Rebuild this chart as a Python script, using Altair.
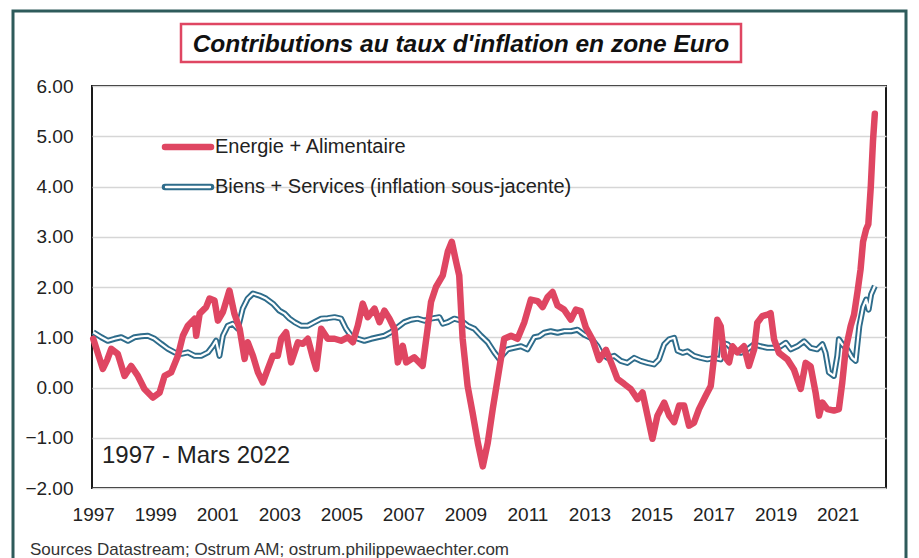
import altair as alt
import pandas as pd

# ---- data (decimal years, contribution in points) ----
energy_years = [1997.0, 1997.31, 1997.45, 1997.58, 1997.79, 1998.01, 1998.22, 1998.44, 1998.65, 1998.92,
                1999.14, 1999.3, 1999.51, 1999.73, 1999.89, 2000.05, 2000.27, 2000.32, 2000.43, 2000.64,
                2000.75, 2000.91, 2001.02, 2001.18, 2001.39, 2001.55, 2001.72, 2001.88, 2001.98, 2002.15,
                2002.31, 2002.47, 2002.63, 2002.79, 2002.95, 2003.06, 2003.22, 2003.38, 2003.6, 2003.76,
                2003.92, 2004.08, 2004.19, 2004.35, 2004.56, 2004.78, 2004.99, 2005.21, 2005.37, 2005.53,
                2005.69, 2005.85, 2006.07, 2006.23, 2006.39, 2006.55, 2006.71, 2006.82, 2006.98, 2007.09,
                2007.35, 2007.62, 2007.78, 2007.89, 2008.05, 2008.27, 2008.43, 2008.56, 2008.7, 2008.8,
                2008.91, 2009.07, 2009.23, 2009.4, 2009.56, 2009.72, 2009.88, 2010.09, 2010.25, 2010.47,
                2010.68, 2010.9, 2011.11, 2011.33, 2011.49, 2011.65, 2011.81, 2011.97, 2012.18, 2012.4,
                2012.56, 2012.72, 2012.88, 2013.1, 2013.31, 2013.53, 2013.74, 2013.9, 2014.12, 2014.33,
                2014.55, 2014.71, 2014.87, 2015.03, 2015.19, 2015.41, 2015.57, 2015.73, 2015.89, 2016.05,
                2016.21, 2016.37, 2016.53, 2016.75, 2016.91, 2017.02, 2017.12, 2017.23, 2017.34, 2017.5,
                2017.61, 2017.77, 2017.98, 2018.14, 2018.31, 2018.41, 2018.57, 2018.74, 2018.84, 2018.95,
                2019.11, 2019.38, 2019.59, 2019.81, 2019.97, 2020.13, 2020.29, 2020.4, 2020.51, 2020.67,
                2020.88, 2021.04, 2021.15, 2021.26, 2021.42, 2021.53, 2021.64, 2021.74, 2021.82, 2021.92,
                2021.99, 2022.07, 2022.14, 2022.2]
energy_values = [0.97, 0.37, 0.55, 0.77, 0.67, 0.23, 0.43, 0.23, -0.03, -0.2,
                 -0.1, 0.23, 0.3, 0.63, 1.03, 1.23, 1.37, 1.03, 1.47, 1.6,
                 1.77, 1.73, 1.33, 1.5, 1.93, 1.47, 1.17, 0.57, 0.9, 0.63,
                 0.3, 0.1, 0.37, 0.63, 0.63, 0.97, 1.1, 0.5, 0.9, 0.87,
                 0.97, 0.6, 0.37, 1.17, 0.97, 0.97, 0.93, 1.0, 0.9, 1.23,
                 1.67, 1.4, 1.57, 1.3, 1.53, 1.37, 1.17, 0.5, 0.83, 0.5,
                 0.6, 0.43, 1.17, 1.7, 2.0, 2.23, 2.7, 2.9, 2.5, 2.23,
                 0.97, 0.03, -0.5, -1.1, -1.57, -1.1, -0.43, 0.37, 0.97, 1.03,
                 0.97, 1.3, 1.75, 1.72, 1.6, 1.8, 1.9, 1.63, 1.55, 1.35,
                 1.55, 1.52, 1.2, 0.95, 0.55, 0.75, 0.43, 0.17, 0.07, -0.03,
                 -0.23, -0.1, -0.56, -1.02, -0.56, -0.3, -0.56, -0.69, -0.36, -0.36,
                 -0.76, -0.7, -0.43, -0.16, 0.03, 0.63, 1.35, 1.22, 0.63, 0.5,
                 0.82, 0.7, 0.82, 0.43, 0.76, 1.29, 1.42, 1.45, 1.48, 0.96,
                 0.69, 0.56, 0.36, -0.03, 0.49, 0.42, -0.1, -0.56, -0.3, -0.43,
                 -0.46, -0.43, 0.1, 0.76, 1.22, 1.45, 1.9, 2.35, 2.9, 3.15,
                 3.25, 4.0, 4.9, 5.45]

core_years = [1997.0, 1997.26, 1997.47, 1997.69, 1997.9, 1998.12, 1998.33, 1998.55, 1998.76, 1998.98,
              1999.19, 1999.41, 1999.62, 1999.84, 2000.05, 2000.27, 2000.48, 2000.7, 2000.86, 2000.96,
              2001.07, 2001.18, 2001.34, 2001.5, 2001.66, 2001.82, 2001.98, 2002.15, 2002.36, 2002.57,
              2002.79, 2003.0, 2003.17, 2003.33, 2003.49, 2003.7, 2003.92, 2004.13, 2004.35, 2004.56,
              2004.78, 2004.99, 2005.15, 2005.31, 2005.53, 2005.74, 2005.96, 2006.17, 2006.39, 2006.6,
              2006.82, 2007.03, 2007.25, 2007.46, 2007.68, 2007.89, 2008.16, 2008.27, 2008.43, 2008.64,
              2008.86, 2009.07, 2009.29, 2009.5, 2009.72, 2009.93, 2010.09, 2010.36, 2010.57, 2010.79,
              2011.0, 2011.22, 2011.38, 2011.54, 2011.75, 2011.97, 2012.18, 2012.4, 2012.61, 2012.83,
              2013.04, 2013.26, 2013.37, 2013.58, 2013.8, 2014.01, 2014.22, 2014.44, 2014.65, 2014.87,
              2015.08, 2015.24, 2015.41, 2015.57, 2015.73, 2015.84, 2016.0, 2016.16, 2016.37, 2016.59,
              2016.8, 2017.02, 2017.23, 2017.29, 2017.45, 2017.66, 2017.88, 2018.09, 2018.31, 2018.52,
              2018.74, 2018.95, 2019.16, 2019.33, 2019.49, 2019.7, 2019.92, 2020.13, 2020.34, 2020.51,
              2020.61, 2020.72, 2020.88, 2020.99, 2021.04, 2021.15, 2021.31, 2021.47, 2021.58, 2021.7,
              2021.82, 2021.92, 2022.0, 2022.08, 2022.2]
core_values = [1.1, 1.0, 0.93, 0.97, 1.0, 0.93, 1.0, 1.02, 1.03, 0.97,
               0.87, 0.77, 0.7, 0.67, 0.7, 0.63, 0.63, 0.7, 0.83, 0.93,
               0.63, 1.03, 1.23, 1.27, 1.17, 1.57, 1.77, 1.87, 1.83, 1.77,
               1.67, 1.53, 1.47, 1.37, 1.3, 1.23, 1.23, 1.3, 1.37, 1.38,
               1.4, 1.37, 1.17, 1.03, 0.97, 0.93, 0.97, 1.0, 1.03, 1.1,
               1.2, 1.3, 1.35, 1.37, 1.33, 1.37, 1.4, 1.27, 1.3, 1.37,
               1.33, 1.23, 1.17, 1.03, 0.9, 0.7, 0.57, 0.76, 0.79, 0.82,
               0.76, 1.0, 1.02, 1.09, 1.12, 1.09, 1.12, 1.12, 1.15, 1.05,
               0.99, 0.82, 0.69, 0.59, 0.63, 0.53, 0.49, 0.59, 0.53, 0.49,
               0.46, 0.56, 0.86, 0.96, 0.99, 0.73, 0.69, 0.72, 0.63, 0.59,
               0.56, 0.59, 0.56, 0.89, 0.86, 0.73, 0.69, 0.76, 0.86, 0.82,
               0.79, 0.79, 0.82, 0.89, 0.76, 0.82, 0.92, 0.79, 0.76, 0.86,
               0.69, 0.3, 0.23, 0.63, 0.96, 0.86, 0.76, 0.59, 0.53, 1.22,
               1.6, 1.75, 1.55, 1.85, 2.02]

year_ticks = list(range(1997, 2022, 2))
value_ticks = [-2, -1, 0, 1, 2, 3, 4, 5, 6]

title_text = "Contributions au taux d'inflation en zone Euro"
legend_energy = "Energie + Alimentaire"
legend_core = "Biens + Services (inflation sous-jacente)"
period_text = "1997 - Mars 2022"
source_text = "Sources Datastream;  Ostrum  AM;  ostrum.philippewaechter.com"

PINK = "#DF4662"
BLUE = "#2E6C8B"
FRAME = "#2E5B5B"
FONT = "Liberation Sans"

energy_df = pd.DataFrame({"year": energy_years, "value": energy_values})
core_df = pd.DataFrame({"year": core_years, "value": core_values})
one = pd.DataFrame({"k": [0]})

x_scale = alt.Scale(domain=[1996.96, 2022.56], nice=False, zero=False)
y_scale = alt.Scale(domain=[-2, 6], nice=False, zero=False)

x_enc = alt.X("year:Q", scale=x_scale, title=None,
              axis=alt.Axis(values=year_ticks, format="d", grid=False, ticks=False, tickSize=0,
                            domain=False, labelFlush=False, labelOverlap=False, labelBound=False,
                            labelFontSize=19, labelFont=FONT, labelColor="#222222", labelPadding=17))
y_enc = alt.Y("value:Q", scale=y_scale, title=None,
              axis=alt.Axis(values=value_ticks, format=".2f", grid=True, gridColor="#d6d6d6",
                            gridWidth=1.5, ticks=False, tickSize=0, domain=False,
                            labelFontSize=19, labelFont=FONT, labelColor="#222222", labelPadding=19))

core_outer = alt.Chart(core_df).mark_line(color=BLUE, strokeWidth=6, strokeJoin="round").encode(x=x_enc, y=y_enc)
core_inner = alt.Chart(core_df).mark_line(color="white", strokeWidth=2.2, strokeJoin="round").encode(x="year:Q", y="value:Q")
energy_line = alt.Chart(energy_df).mark_line(color=PINK, strokeWidth=6.5, strokeJoin="round",
                                             strokeCap="round").encode(x="year:Q", y="value:Q")

# decorations
frame = alt.Chart(one).mark_rect(fill=None, stroke=FRAME, strokeWidth=3).encode(
    x=alt.value(-79), x2=alt.value(814), y=alt.value(-75), y2=alt.value(520))
title_box = alt.Chart(one).mark_rect(fill="white", stroke=PINK, strokeWidth=2.5).encode(
    x=alt.value(89), x2=alt.value(649), y=alt.value(-62), y2=alt.value(-24))
title = alt.Chart(one).mark_text(text=title_text, font=FONT, fontSize=24.5, fontWeight="bold",
                                 fontStyle="italic", color="#111111", align="center",
                                 baseline="alphabetic").encode(x=alt.value(369), y=alt.value(-34))

leg_pink = alt.Chart(one).mark_rule(color=PINK, strokeWidth=6.5, strokeCap="round").encode(
    x=alt.value(73), x2=alt.value(119), y=alt.value(61))
leg_blue_o = alt.Chart(one).mark_rule(color=BLUE, strokeWidth=6.5, strokeCap="round").encode(
    x=alt.value(73), x2=alt.value(119), y=alt.value(101))
leg_blue_i = alt.Chart(one).mark_rule(color="white", strokeWidth=2.4, strokeCap="round").encode(
    x=alt.value(74), x2=alt.value(118), y=alt.value(101))
leg_t1 = alt.Chart(one).mark_text(text=legend_energy, font=FONT, fontSize=20, color="#222222",
                                  align="left", baseline="middle").encode(x=alt.value(123), y=alt.value(61))
leg_t2 = alt.Chart(one).mark_text(text=legend_core, font=FONT, fontSize=20, color="#222222",
                                  align="left", baseline="middle").encode(x=alt.value(123), y=alt.value(101))
period = alt.Chart(one).mark_text(text=period_text, font=FONT, fontSize=24, color="#222222",
                                  align="left", baseline="alphabetic").encode(x=alt.value(10), y=alt.value(377))
source = alt.Chart(one).mark_text(text=source_text, font=FONT, fontSize=17, color="#333333",
                                  align="left", baseline="alphabetic").encode(x=alt.value(-62), y=alt.value(469))

chart = alt.layer(
    frame, title_box, title,
    core_outer, core_inner, energy_line,
    leg_pink, leg_blue_o, leg_blue_i, leg_t1, leg_t2, period, source
).properties(
    width=794, height=402,
    padding={"left": 84, "top": 78, "right": 25, "bottom": 70},
    autosize=alt.AutoSizeParams(type="none"),
    background="white",
).configure_view(stroke="#1a1a1a", strokeWidth=2)

chart.save("out.html", embed_options={"renderer": "svg", "actions": False})
